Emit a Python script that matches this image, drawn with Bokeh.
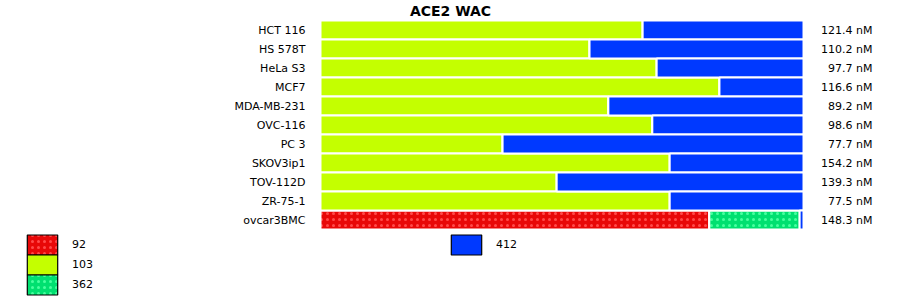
from bokeh.plotting import figure
from bokeh.models import ColumnDataSource, Range1d, Legend, LegendItem, Label
from bokeh.embed import file_html
from bokeh.resources import INLINE
from bokeh.core.properties import value

title_text = "ACE2 WAC"
cell_lines = ["HCT 116", "HS 578T", "HeLa S3", "MCF7", "MDA-MB-231", "OVC-116",
              "PC 3", "SKOV3ip1", "TOV-112D", "ZR-75-1", "ovcar3BMC"]
concentrations = ["121.4 nM", "110.2 nM", "97.7 nM", "116.6 nM", "89.2 nM", "98.6 nM",
                  "77.7 nM", "154.2 nM", "139.3 nM", "77.5 nM", "148.3 nM"]
series_names = ["92", "103", "362", "412"]
s92 = [0, 0, 0, 0, 0, 0, 0, 0, 0, 0, 80.5]
s103 = [66.7, 55.7, 69.6, 82.6, 59.6, 68.7, 37.7, 72.3, 48.9, 72.3, 0]
s362 = [0, 0, 0, 0, 0, 0, 0, 0, 0, 0, 18.7]
s412 = [33.3, 44.3, 30.4, 17.4, 40.4, 31.3, 62.3, 27.7, 51.1, 27.7, 0.8]

fills = ["#e80808", "#c4ff00", "#00e070", "#0039ff"]
hatch_cols = ["#ff4a4a", None, "#48ffa0", None]
hatches = ["dot", " ", "dot", " "]

W, H = 900, 299
left_px, full_px = 320, 483.0   # 0 -> 320px, 100 -> 803px
row_px, first_px = 19.0, 29.5

rows = list(range(len(cell_lines)))
src = ColumnDataSource(dict(row=rows, label=cell_lines, conc=concentrations,
                            s92=s92, s103=s103, s362=s362, s412=s412))

p = figure(width=W, height=H, output_backend="svg", toolbar_location=None,
           x_axis_type=None, y_axis_type=None,
           x_range=Range1d(-left_px / full_px * 100, (W - left_px) / full_px * 100),
           y_range=Range1d((H - first_px) / row_px, -first_px / row_px),
           min_border=0, min_border_left=0, min_border_right=0,
           min_border_top=0, min_border_bottom=0)
p.outline_line_color = None
p.grid.visible = False
p.background_fill_color = "white"

def hatch_kw(hc, hp):
    if hp == " ":
        return {}
    return dict(hatch_pattern=hp, hatch_color=hc, hatch_scale=6, hatch_weight=3.5)

keys = ["s92", "s103", "s362", "s412"]
starts = [0.0] * len(rows)
for k, fc, hc, hp in zip(keys, fills, hatch_cols, hatches):
    vals = src.data[k]
    ends = [a + b for a, b in zip(starts, vals)]
    d = dict(row=rows, left=starts, right=ends)
    p.hbar(y="row", left="left", right="right", height=1.0, source=ColumnDataSource(d),
           fill_color=fc, line_color="white", line_width=2, **hatch_kw(hc, hp))
    starts = ends

font = value("DejaVu Sans")
p.text(x=0, y="row", text="label", source=src, x_offset=-15, text_align="right",
       text_baseline="middle", text_font=font, text_font_size="11px", text_color="black")
p.text(x=100, y="row", text="conc", source=src, x_offset=69, text_align="right",
       text_baseline="middle", text_font=font, text_font_size="11px", text_color="black")

p.add_layout(Label(x=W / 2, y=H - 10, x_units="screen", y_units="screen", text=title_text,
                   text_align="center", text_baseline="middle", text_font="DejaVu Sans",
                   text_font_style="bold", text_font_size="14px", text_color="black"))

nan = float("nan")
leg_r = []
for fc, hc, hp in zip(fills, hatch_cols, hatches):
    r = p.hbar(y=[nan], left=[nan], right=[nan], height=1.0, fill_color=fc,
               line_color="black", line_width=1.2, **hatch_kw(hc, hp))
    leg_r.append(r)

def mk_legend(i, x, y):
    return Legend(items=[LegendItem(label=series_names[i], renderers=[leg_r[i]])],
                  location=(x, y), orientation="vertical",
                  glyph_width=38, glyph_height=25, label_height=20, spacing=0, padding=0,
                  margin=0, label_standoff=11, border_line_color=None,
                  background_fill_alpha=0, label_text_font="DejaVu Sans",
                  label_text_font_size="11px", label_text_color="black")

legend_pos = [(23, 42), (23, 22), (23, 2), (447, 42)]
for i, (lx, ly) in enumerate(legend_pos):
    p.add_layout(mk_legend(i, lx, ly), "center")

open("out.html", "w").write(file_html(p, INLINE))
